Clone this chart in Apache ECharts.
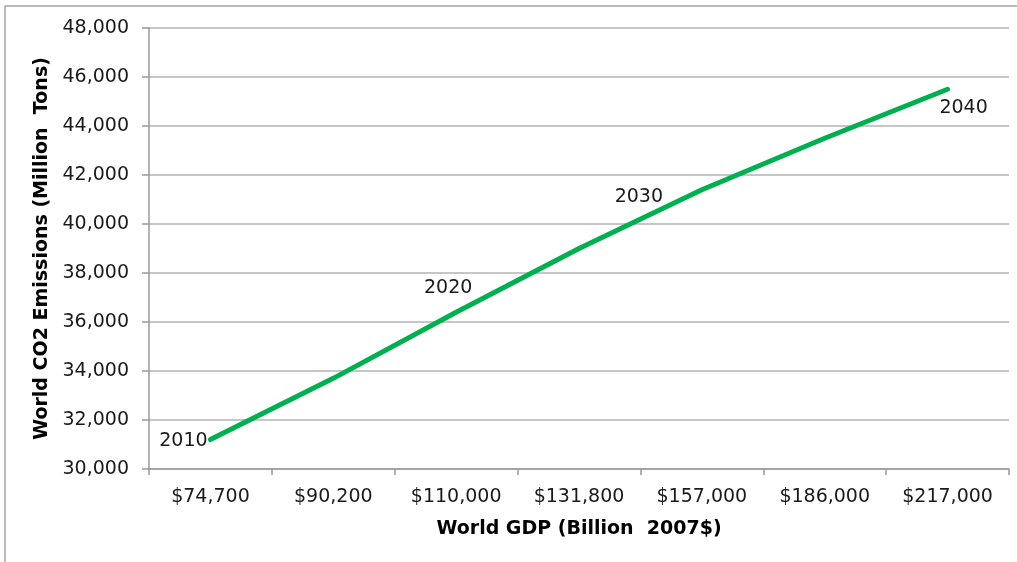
<!DOCTYPE html>
<html>
<head>
<meta charset="utf-8">
<script src="https://cdn.jsdelivr.net/npm/echarts@6/dist/echarts.min.js"></script>
<style>
  html, body { margin: 0; padding: 0; background: #fff; }
  #chart { width: 1017px; height: 562px; }
</style>
</head>
<body>
<div id="chart"></div>
<script>
// world GDP (billion 2007$) on the category axis
const gdpLabels = ['$74,700', '$90,200', '$110,000', '$131,800', '$157,000', '$186,000', '$217,000'];
// world CO2 emissions, million tons
const emissions = [31200, 33700, 36400, 39000, 41400, 43500, 45500];
// year tags shown next to some points
const yearLabels = ['2010', '', '2020', '', '2030', '', '2040'];

// where each year tag sits relative to its point (px)
const tagOffsets = [[-27, 1], null, [-8, -24], null, [-63, 7], null, [16, 19]];

const font = '"DejaVu Sans", "Liberation Sans", Arial, sans-serif';

let chart = echarts.init(document.getElementById('chart'));

let seriesData = emissions.map((v, i) => {
	let tag = yearLabels[i];
	return {
		value: v,
		label: {
			show: !!tag,
			formatter: tag,
			position: 'inside',
			offset: tagOffsets[i] || [0, 0]
		}
	};
});

let option = {
	animation: false,
	backgroundColor: '#fff',
	grid: {
		left: 149,
		right: 8,
		top: 28,
		bottom: 93
	},
	graphic: [
		{
			type: 'rect',
			shape: { x: 5, y: 6, width: 1200, height: 800 },
			style: { fill: 'none', stroke: '#a6a6a6', lineWidth: 1.5 },
			silent: true
		}
	],
	xAxis: {
		type: 'category',
		data: gdpLabels,
		boundaryGap: true,
		name: 'World GDP (Billion  2007$)',
		nameLocation: 'middle',
		nameGap: 51,
		nameTextStyle: { fontFamily: font, fontSize: 19, fontWeight: 'bold', color: '#000' },
		axisLine: { lineStyle: { color: '#999', width: 1.5 } },
		axisTick: { show: true, length: 6, lineStyle: { color: '#999', width: 1.5 } },
		axisLabel: { fontFamily: font, fontSize: 19, color: '#1a1a1a', margin: 19 },
		splitLine: { show: false }
	},
	yAxis: {
		type: 'value',
		min: 30000,
		max: 48000,
		interval: 2000,
		name: 'World CO2 Emissions (Million  Tons)',
		nameLocation: 'middle',
		nameGap: 97,
		nameTextStyle: { fontFamily: font, fontSize: 19, fontWeight: 'bold', color: '#000' },
		axisLine: { show: true, lineStyle: { color: '#999', width: 1.5 } },
		axisTick: { show: true, length: 7, lineStyle: { color: '#999', width: 1.5 } },
		axisLabel: {
			fontFamily: font,
			fontSize: 19,
			color: '#1a1a1a',
			margin: 20,
			formatter: (v) => v.toLocaleString('en-US')
		},
		splitLine: { show: true, lineStyle: { color: '#b3b3b3', width: 1.5 } }
	},
	series: [
		{
			type: 'line',
			data: seriesData,
			symbol: 'circle',
			symbolSize: 1,
			showSymbol: true,
			lineStyle: { color: '#00b050', width: 5, cap: 'round' },
			itemStyle: { color: '#00b050' },
			label: {
				fontFamily: font,
				fontSize: 19,
				color: '#1a1a1a'
			}
		}
	]
};

chart.setOption(option);
</script>
</body>
</html>
